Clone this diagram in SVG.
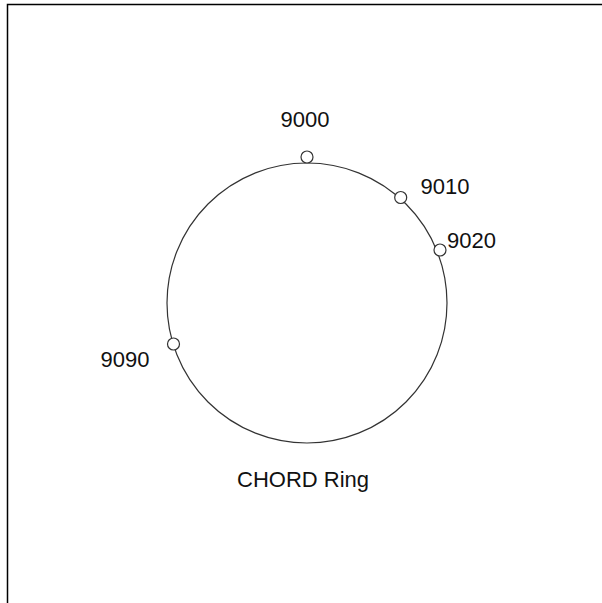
<svg xmlns="http://www.w3.org/2000/svg" width="602" height="603" viewBox="0 0 602 603">
  <style>
    .frame { fill: none; stroke: #000; stroke-width: 1.5; }
    .ring { fill: none; stroke: #333; stroke-width: 1.2; }
    .node circle { fill: #fff; stroke: #333; stroke-width: 1.2; }
    text { font-family: "Liberation Sans", Arial, sans-serif; font-size: 22px; fill: #111; }
  </style>
  <rect width="602" height="603" fill="#fff"/>
  <!-- page frame: top and left edges -->
  <path class="frame" d="M7.5,603 V4.5 H602"/>

  <g id="connectors">
    <circle class="ring" cx="307" cy="303" r="140"/>
  </g>

  <g id="node-9000" class="node">
    <circle cx="307" cy="157" r="6"/>
    <text x="280.5" y="127">9000</text>
  </g>
  <g id="node-9010" class="node">
    <circle cx="400.7" cy="197.5" r="6"/>
    <text x="420.5" y="193.5">9010</text>
  </g>
  <g id="node-9020" class="node">
    <circle cx="440" cy="250" r="6"/>
    <text x="447" y="247.5">9020</text>
  </g>
  <g id="node-9090" class="node">
    <circle cx="173.5" cy="344" r="6"/>
    <text x="100.5" y="367">9090</text>
  </g>
  <g id="label">
    <text x="237" y="487">CHORD Ring</text>
  </g>
</svg>
